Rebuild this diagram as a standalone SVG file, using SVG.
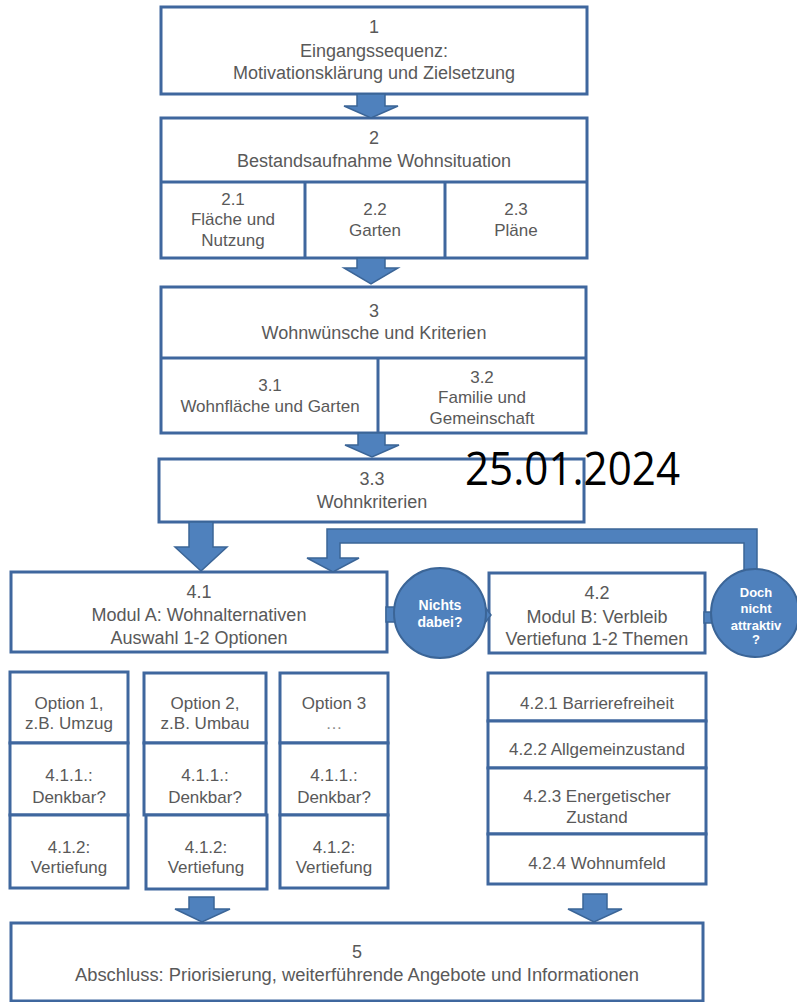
<svg xmlns="http://www.w3.org/2000/svg" width="797" height="1002" viewBox="0 0 797 1002">
<defs>
<style>
.box{fill:#ffffff;stroke:#3f679e;stroke-width:3}
.ln{stroke:#3f679e;stroke-width:3;fill:none}
.arr{fill:#4f81bd;stroke:#3b6597;stroke-width:1.5;stroke-linejoin:miter}
.t{font-family:"Liberation Sans",Arial,sans-serif;font-size:18px;fill:#595959;text-anchor:middle}
.s{font-family:"Liberation Sans",Arial,sans-serif;font-size:17px;fill:#595959;text-anchor:middle}
.w{font-family:"Liberation Sans",Arial,sans-serif;font-weight:bold;fill:#ffffff;text-anchor:middle}
</style>
<clipPath id="clip42"><rect x="489" y="573" width="217" height="72"/></clipPath>
</defs>
<rect width="797" height="1002" fill="#ffffff"/>

<g id="node1">
<rect class="box" x="161" y="7" width="426" height="87"/>
<text class="t" x="374" y="33">1</text>
<text class="t" x="374" y="57">Eingangssequenz:</text>
<text class="t" x="374" y="79">Motivationsklärung und Zielsetzung</text>
</g>

<g id="node2">
<rect class="box" x="161" y="118" width="426" height="140"/>
<line class="ln" x1="161" y1="182" x2="587" y2="182"/>
<line class="ln" x1="305" y1="182" x2="305" y2="258"/>
<line class="ln" x1="445" y1="182" x2="445" y2="258"/>
<text class="t" x="374" y="144">2</text>
<text class="t" x="374" y="167">Bestandsaufnahme Wohnsituation</text>
<text class="s" x="233" y="205">2.1</text>
<text class="s" x="233" y="225">Fläche und</text>
<text class="s" x="233" y="246">Nutzung</text>
<text class="s" x="375" y="215">2.2</text>
<text class="s" x="375" y="236">Garten</text>
<text class="s" x="516" y="215">2.3</text>
<text class="s" x="516" y="236">Pläne</text>
</g>

<g id="node3">
<rect class="box" x="161" y="287" width="425" height="146"/>
<line class="ln" x1="161" y1="358" x2="586" y2="358"/>
<line class="ln" x1="378" y1="358" x2="378" y2="433"/>
<text class="t" x="374" y="317">3</text>
<text class="t" x="374" y="339">Wohnwünsche und Kriterien</text>
<text class="s" x="270" y="391">3.1</text>
<text class="s" x="270" y="412">Wohnfläche und Garten</text>
<text class="s" x="482" y="383">3.2</text>
<text class="s" x="482" y="403">Familie und</text>
<text class="s" x="482" y="424">Gemeinschaft</text>
</g>

<g id="node33">
<rect class="box" x="159" y="459" width="425" height="63"/>
<text class="t" x="372" y="485">3.3</text>
<text class="t" x="372" y="508">Wohnkriterien</text>
</g>

<g id="node41">
<rect class="box" x="11" y="572" width="376" height="80"/>
<text class="t" x="199" y="598">4.1</text>
<text class="t" x="199" y="621">Modul A: Wohnalternativen</text>
<text class="t" x="199" y="644">Auswahl 1-2 Optionen</text>
</g>

<g id="node42">
<rect class="box" x="489" y="573" width="216" height="80"/>
<g clip-path="url(#clip42)">
<text class="t" x="597" y="599">4.2</text>
<text class="t" x="597" y="623">Modul B: Verbleib</text>
<text class="t" x="597" y="645">Vertiefung 1-2 Themen</text>
</g>
</g>

<g id="option1">
<rect class="box" x="10" y="672" width="118" height="71"/>
<rect class="box" x="10" y="743" width="118" height="72"/>
<rect class="box" x="10" y="815" width="118" height="73"/>
<text class="s" x="69" y="709">Option 1,</text>
<text class="s" x="69" y="729">z.B. Umzug</text>
<text class="s" x="69" y="781">4.1.1.:</text>
<text class="s" x="69" y="803">Denkbar?</text>
<text class="s" x="69" y="853">4.1.2:</text>
<text class="s" x="69" y="873">Vertiefung</text>
</g>

<g id="option2">
<rect class="box" x="144" y="673" width="122" height="70"/>
<rect class="box" x="144" y="743" width="122" height="72"/>
<rect class="box" x="146" y="815" width="121" height="74"/>
<text class="s" x="205" y="709">Option 2,</text>
<text class="s" x="205" y="729">z.B. Umbau</text>
<text class="s" x="205" y="781">4.1.1.:</text>
<text class="s" x="205" y="803">Denkbar?</text>
<text class="s" x="206" y="853">4.1.2:</text>
<text class="s" x="206" y="873">Vertiefung</text>
</g>

<g id="option3">
<rect class="box" x="280" y="673" width="108" height="70"/>
<rect class="box" x="280" y="743" width="108" height="72"/>
<rect class="box" x="280" y="815" width="108" height="73"/>
<text class="s" x="334" y="709">Option 3</text>
<text class="s" x="334" y="729" style="fill:#8c8c8c">…</text>
<text class="s" x="334" y="781">4.1.1.:</text>
<text class="s" x="334" y="803">Denkbar?</text>
<text class="s" x="334" y="853">4.1.2:</text>
<text class="s" x="334" y="873">Vertiefung</text>
</g>

<g id="themes42">
<rect class="box" x="488" y="673" width="218" height="48"/>
<rect class="box" x="488" y="721" width="218" height="47"/>
<rect class="box" x="488" y="768" width="218" height="66"/>
<rect class="box" x="488" y="834" width="218" height="50"/>
<text class="s" x="597" y="709">4.2.1 Barrierefreiheit</text>
<text class="s" x="597" y="755">4.2.2 Allgemeinzustand</text>
<text class="s" x="597" y="802">4.2.3 Energetischer</text>
<text class="s" x="597" y="823">Zustand</text>
<text class="s" x="597" y="869">4.2.4 Wohnumfeld</text>
</g>

<g id="node5">
<rect class="box" x="11" y="923" width="692" height="78"/>
<text class="t" x="357" y="958">5</text>
<text class="t" x="357" y="981" textLength="564" lengthAdjust="spacingAndGlyphs">Abschluss: Priorisierung, weiterführende Angebote und Informationen</text>
</g>

<g id="connectors">
<polygon class="arr" points="357,94 385,94 385,106 398,106 371,118 344,106 357,106"/>
<polygon class="arr" points="357,258 385,258 385,268 398,268 371,284 344,268 357,268"/>
<polygon class="arr" points="358,433 385,433 385,445 399,445 372,457 345,445 358,445"/>
<polygon class="arr" points="189,522 213,522 213,547 227,547 201,571 175,547 189,547"/>
<polygon class="arr" points="757,572 757,529 327,529 327,558 307,558 333,572 359,558 340,558 340,543 744,543 744,572"/>
<polygon class="arr" points="189,897 214,897 214,909 230,909 202,922 175,909 189,909"/>
<polygon class="arr" points="583,894 607,894 607,909 622,909 594,922 568,909 583,909"/>
</g>

<g id="nichts">
<rect class="arr" x="386" y="607" width="9" height="15"/>
<polygon class="arr" points="482,603 491,615 482,627"/>
<ellipse class="arr" cx="440" cy="613" rx="46" ry="45" style="stroke-width:2"/>
<text class="w" x="440" y="610" font-size="14">Nichts</text>
<text class="w" x="440" y="627" font-size="14">dabei?</text>
</g>

<g id="doch">
<rect class="arr" x="704" y="612" width="9" height="11"/>
<circle class="arr" cx="755" cy="613" r="44" style="stroke-width:2"/>
<text class="w" x="756" y="597" font-size="13">Doch</text>
<text class="w" x="756" y="613" font-size="13">nicht</text>
<text class="w" x="756" y="630" font-size="13">attraktiv</text>
<text class="w" x="756" y="644" font-size="13">?</text>
</g>

<text id="date" x="465" y="485" font-family="'Open Sans','Liberation Sans',sans-serif" font-size="45" fill="#000000" textLength="215" lengthAdjust="spacingAndGlyphs">25.01.2024</text>
</svg>
